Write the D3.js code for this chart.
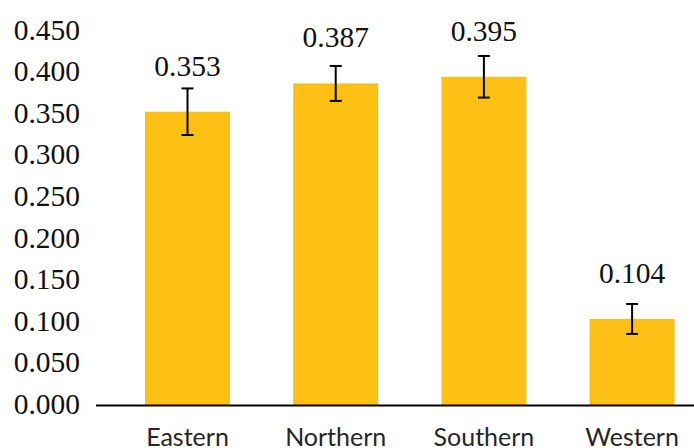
<!DOCTYPE html>
<html>
<head>
<meta charset="utf-8">
<script src="https://cdn.jsdelivr.net/npm/d3@7"></script>
<style>
  html, body { margin: 0; padding: 0; background: #fff; }
  svg { display: block; }
</style>
</head>
<body>
<script>
// ---- data ----
const categories = ["Eastern", "Northern", "Southern", "Western"];
const values = [0.353, 0.387, 0.395, 0.104];
const errors = [0.028, 0.021, 0.025, 0.018];
const yTicks = [0, 0.05, 0.1, 0.15, 0.2, 0.25, 0.3, 0.35, 0.4, 0.45];

// ---- layout ----
const W = 694, H = 448;
const svg = d3.select("body").append("svg").attr("width", W).attr("height", H);

const x = d3.scaleBand()
  .domain(categories)
  .range([113.4, 706.2])
  .paddingInner(0.4265)
  .paddingOuter(0.4265 / 2);

const y = d3.scaleLinear().domain([0, 0.45]).range([405.5, 31]);

const serif = "'Liberation Serif', 'Times New Roman', serif";
const sans = "Lato, 'Open Sans', sans-serif";

// y axis labels (no axis line, no ticks)
const yAxis = d3.axisLeft(y).tickValues(yTicks).tickFormat(d3.format(".3f")).tickSize(0).tickPadding(0);
const gy = svg.append("g").attr("transform", "translate(80,0)").call(yAxis);
gy.select(".domain").remove();
gy.selectAll("text")
  .attr("dy", 8)
  .attr("font-family", serif)
  .attr("font-size", 29.5)
  .attr("fill", "#111");

// bars
svg.append("g").selectAll("rect")
  .data(categories)
  .join("rect")
  .attr("x", d => x(d))
  .attr("width", x.bandwidth())
  .attr("y", (d, i) => y(values[i]))
  .attr("height", (d, i) => y(0) - y(values[i]))
  .attr("fill", "#FBC013");

// baseline axis
svg.append("line")
  .attr("x1", 96).attr("x2", W)
  .attr("y1", y(0)).attr("y2", y(0))
  .attr("stroke", "#000").attr("stroke-width", 2);

// error bars
const eg = svg.append("g").attr("stroke", "#000").attr("stroke-width", 2);
categories.forEach((c, i) => {
  const cx = x(c) + x.bandwidth() / 2;
  const hi = y(values[i] + errors[i]);
  const lo = y(values[i] - errors[i]);
  eg.append("line").attr("x1", cx).attr("x2", cx).attr("y1", hi).attr("y2", lo);
  eg.append("line").attr("x1", cx - 6).attr("x2", cx + 6).attr("y1", hi).attr("y2", hi);
  eg.append("line").attr("x1", cx - 6).attr("x2", cx + 6).attr("y1", lo).attr("y2", lo);
});

// value labels
svg.append("g").selectAll("text")
  .data(categories)
  .join("text")
  .attr("x", d => x(d) + x.bandwidth() / 2)
  .attr("y", (d, i) => y(values[i]) - 36)
  .attr("text-anchor", "middle")
  .attr("font-family", serif)
  .attr("font-size", 29.5)
  .attr("fill", "#111")
  .text((d, i) => d3.format(".3f")(values[i]));

// category labels
const xAxis = d3.axisBottom(x).tickSize(0).tickPadding(0);
const gx = svg.append("g").attr("transform", "translate(0,446)").call(xAxis);
gx.select(".domain").remove();
gx.selectAll("text")
  .attr("y", 0)
  .attr("dy", 0)
  .attr("font-family", sans)
  .attr("font-size", 25)
  .attr("fill", "#262626");
</script>
</body>
</html>
